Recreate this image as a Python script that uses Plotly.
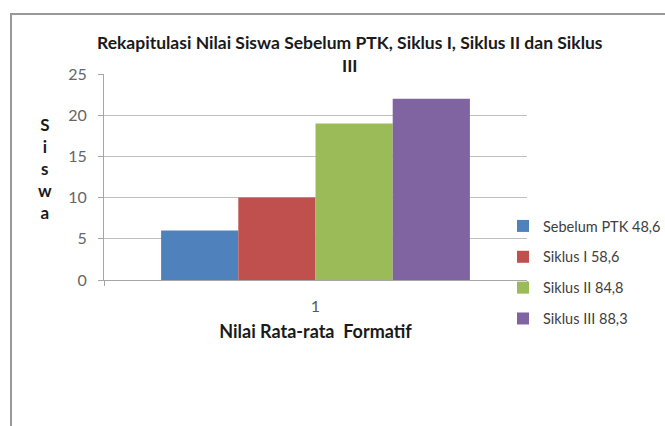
import plotly.graph_objects as go

categories = ["1"]
series_names = ["Sebelum PTK 48,6", "Siklus I 58,6", "Siklus II 84,8", "Siklus III 88,3"]
series_values = [[6], [10], [19], [22]]
colors = ["#4F81BD", "#C0504D", "#9BBB59", "#8064A2"]
y_ticks = [0, 5, 10, 15, 20, 25]

W, H = 665, 426
L, R, T, B = 104, 138, 74, 146
pw, ph = W - L - R, H - T - B

def px_x(x):
    return (x - L) / pw

def px_y(y):
    return (H - B - y) / ph

font_family = "Lato"

fig = go.Figure()
for i, (name, vals, col) in enumerate(zip(series_names, series_values, colors)):
    fig.add_trace(go.Bar(x=categories, y=vals, name=name, marker_color=col,
                         marker_line_width=0, legendgroup=str(i)))

fig.update_layout(
    width=W, height=H,
    margin=dict(l=L, r=R, t=T, b=B, autoexpand=False),
    paper_bgcolor="white", plot_bgcolor="white",
    barmode="group", bargap=0.27, bargroupgap=0,
    font=dict(family=font_family, color="#404040"),
    showlegend=True,
    legend=dict(x=px_x(503), y=px_y(210), xanchor="left", yanchor="top",
                font=dict(size=14.5, color="#404040", family=font_family),
                tracegroupgap=9, bgcolor="rgba(0,0,0,0)"),
    xaxis=dict(type="category", showgrid=False, showline=True, linecolor="#A6A6A6",
               linewidth=1, ticks="outside", ticklen=5, tickcolor="#A6A6A6",
               tickson="boundaries", tickfont=dict(size=16, color="#595959"),
               ticklabelstandoff=12,
               title=dict(text="<b>Nilai Rata-rata  Formatif</b>", standoff=11,
                          font=dict(size=18, color="#1a1a1a"))),
    yaxis=dict(range=[0, 25], tickvals=y_ticks, showgrid=True, gridcolor="#BFBFBF",
               showline=True, linecolor="#A6A6A6", linewidth=1, ticks="outside",
               ticklen=5, tickcolor="#A6A6A6", zeroline=False,
               tickfont=dict(size=16, color="#666666"), ticklabelstandoff=8),
)

fig.add_annotation(text="<b>Rekapitulasi Nilai Siswa Sebelum PTK, Siklus I, Siklus II dan Siklus<br>III</b>",
                   xref="paper", yref="paper", x=px_x(350), y=px_y(30),
                   xanchor="center", yanchor="top", showarrow=False,
                   font=dict(size=17.5, color="#1a1a1a", family=font_family))

fig.add_annotation(text="<b>S<br>i<br>s<br>w<br>a</b>", xref="paper", yref="paper",
                   x=px_x(45), y=px_y(168), xanchor="center", yanchor="middle",
                   showarrow=False, font=dict(size=17, color="#1a1a1a", family=font_family))

fig.add_shape(type="rect", xref="paper", yref="paper",
              x0=px_x(11), x1=px_x(680), y0=px_y(440), y1=px_y(14),
              line=dict(color="#999999", width=2), fillcolor="rgba(0,0,0,0)", layer="below")

fig.write_html("out.html")
